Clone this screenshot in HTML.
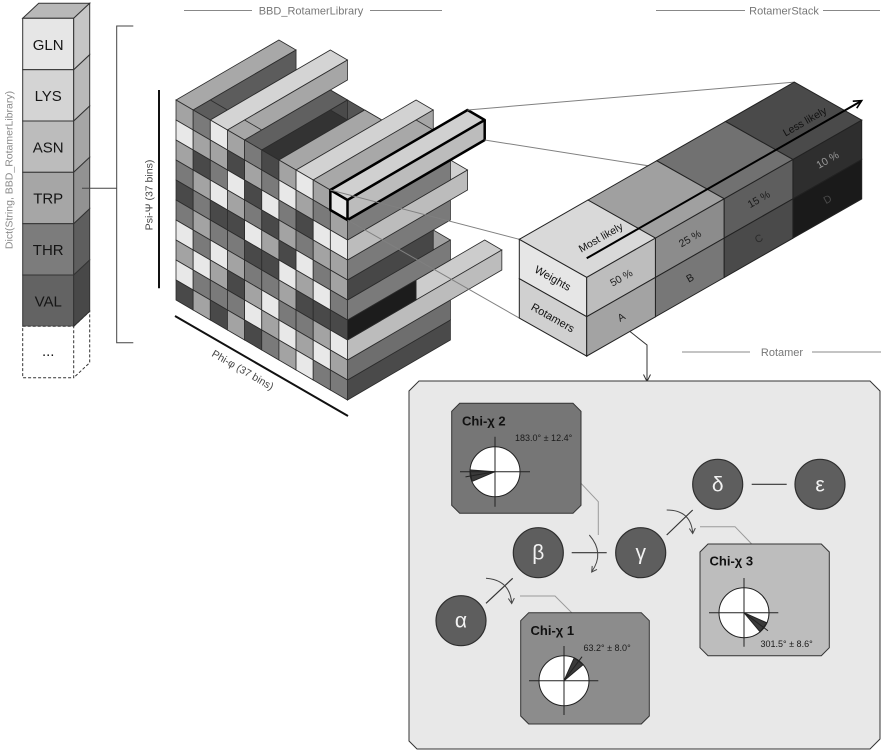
<!DOCTYPE html>
<html><head><meta charset="utf-8"><style>
html,body{margin:0;padding:0;background:#fff;}
svg{display:block;}
.cube rect{vector-effect:non-scaling-stroke;stroke:#2b2b2b;stroke-width:0.8;}
text{font-family:"Liberation Sans","DejaVu Sans",sans-serif;}
</style></head><body>
<svg width="891" height="751" viewBox="0 0 891 751" xmlns="http://www.w3.org/2000/svg">
<rect width="891" height="751" fill="#fff"/>

<!-- headers -->
<g stroke="#888" stroke-width="1">
<line x1="184" y1="10.5" x2="252" y2="10.5"/><line x1="370" y1="10.5" x2="442" y2="10.5"/>
<line x1="656" y1="10.5" x2="745" y2="10.5"/><line x1="823" y1="10.5" x2="880" y2="10.5"/>
<line x1="682" y1="352" x2="750" y2="352"/><line x1="812" y1="352" x2="881" y2="352"/>
</g>
<g fill="#777" font-size="11" text-anchor="middle">
<text x="311" y="14.5">BBD_RotamerLibrary</text>
<text x="784" y="14.5">RotamerStack</text>
<text x="782" y="356">Rotamer</text>
</g>

<!-- left dict stack -->
<text transform="translate(12.5,170) rotate(-90)" text-anchor="middle" font-size="10.5" fill="#8a8a8a">Dict(String, BBD_RotamerLibrary)</text>
<g stroke="#333" stroke-width="1">
<polygon points="22.7,18.3 38.7,3.3 89.7,3.3 73.7,18.3" fill="#b8b8b8"/>
<rect x="22.7" y="18.3" width="51" height="51.4" fill="#e6e6e6"/>
<polygon points="73.7,18.3 89.7,3.3 89.7,54.7 73.7,69.7" fill="#c6c6c6"/>
<rect x="22.7" y="69.7" width="51" height="51.3" fill="#d4d4d4"/>
<polygon points="73.7,69.7 89.7,54.7 89.7,106 73.7,121" fill="#b9b9b9"/>
<rect x="22.7" y="121" width="51" height="51.3" fill="#bcbcbc"/>
<polygon points="73.7,121 89.7,106 89.7,157.3 73.7,172.3" fill="#a6a6a6"/>
<rect x="22.7" y="172.3" width="51" height="51.4" fill="#a6a6a6"/>
<polygon points="73.7,172.3 89.7,157.3 89.7,208.7 73.7,223.7" fill="#929292"/>
<rect x="22.7" y="223.7" width="51" height="51.3" fill="#7c7c7c"/>
<polygon points="73.7,223.7 89.7,208.7 89.7,260 73.7,275" fill="#5e5e5e"/>
<rect x="22.7" y="275" width="51" height="51.3" fill="#636363"/>
<polygon points="73.7,275 89.7,260 89.7,311.3 73.7,326.3" fill="#484848"/>
</g>
<g stroke="#333" stroke-width="1" stroke-dasharray="3,2" fill="#fff">
<rect x="22.7" y="326.3" width="51" height="51.4"/>
<polyline points="73.7,326.3 89.7,311.3 89.7,362.7 73.7,377.7" fill="none"/>
</g>
<g font-size="15" fill="#151515" text-anchor="middle">
<text x="48.2" y="49.8">GLN</text>
<text x="48.2" y="101">LYS</text>
<text x="48.2" y="152.4">ASN</text>
<text x="48.2" y="203.7">TRP</text>
<text x="48.2" y="255">THR</text>
<text x="48.2" y="306.4">VAL</text>
<text x="48.2" y="356">...</text>
</g>
<!-- bracket -->
<g stroke="#444" stroke-width="1" fill="none">
<line x1="82" y1="188.3" x2="116.7" y2="188.3"/>
<polyline points="133.3,26 116.7,26 116.7,342.7 133.3,342.7"/>
</g>

<!-- axes -->
<line x1="159" y1="90" x2="159" y2="288.3" stroke="#111" stroke-width="2"/>
<text transform="translate(152.5,195) rotate(-90)" text-anchor="middle" font-size="10.5" fill="#444">Psi-Ψ (37 bins)</text>
<line x1="175" y1="316" x2="348" y2="416" stroke="#111" stroke-width="2"/>
<text transform="translate(241,373) rotate(30)" text-anchor="middle" font-size="10.5" fill="#444">Phi-φ (37 bins)</text>

<!-- cube -->
<g class="cube">
<!-- row 9..2 -->
<rect transform="matrix(17.15 -10 0 20 347.5 200)" x="0" y="9" width="6" height="1" fill="#4a4a4a"/>
<rect transform="matrix(17.15 -10 0 20 347.5 200)" x="0" y="8" width="6" height="1" fill="#6e6e6e"/>
<rect transform="matrix(17.15 10 17.15 -10 176 240)" x="9" y="4" width="1" height="5" fill="#cccccc"/>
<rect transform="matrix(17.15 -10 0 20 347.5 200)" x="0" y="7" width="9" height="1" fill="#bcbcbc"/>
<rect transform="matrix(17.15 -10 0 20 330.35 190)" x="4" y="6" width="2" height="1" fill="#7a7a7a"/>
<rect transform="matrix(17.15 -10 0 20 347.5 200)" x="0" y="6" width="4" height="1" fill="#1c1c1c"/>
<rect transform="matrix(17.15 10 17.15 -10 176 200)" x="9" y="5" width="1" height="1" fill="#a0a0a0"/>
<rect transform="matrix(17.15 -10 0 20 347.5 200)" x="0" y="5" width="6" height="1" fill="#7a7a7a"/>
<rect transform="matrix(17.15 -10 0 20 330.35 190)" x="5" y="4" width="1" height="1" fill="#6a6a6a"/>
<rect transform="matrix(17.15 -10 0 20 347.5 200)" x="0" y="4" width="5" height="1" fill="#474747"/>
<rect transform="matrix(17.15 -10 0 20 347.5 200)" x="0" y="3" width="6" height="1" fill="#7a7a7a"/>
<rect transform="matrix(17.15 10 17.15 -10 176 140)" x="9" y="6" width="1" height="1" fill="#d0d0d0"/>
<rect transform="matrix(17.15 -10 0 20 347.5 200)" x="0" y="2" width="7" height="1" fill="#bcbcbc"/>
<!-- row 1 -->
<rect transform="matrix(17.15 10 17.15 -10 176 120)" x="1" y="1" width="1" height="5" fill="#5c5c5c"/>
<rect transform="matrix(17.15 10 17.15 -10 176 120)" x="3" y="1" width="1" height="5" fill="#7a7a7a"/>
<rect transform="matrix(17.15 10 17.15 -10 176 120)" x="4" y="5" width="1" height="1" fill="#555555"/>
<rect transform="matrix(17.15 10 17.15 -10 176 120)" x="5" y="4" width="1" height="2" fill="#444444"/>
<rect transform="matrix(17.15 10 17.15 -10 176 120)" x="6" y="5" width="1" height="1" fill="#888888"/>
<rect transform="matrix(17.15 -10 0 20 347.5 200)" x="0" y="1" width="6" height="1" fill="#7c7c7c"/>
<!-- row 0 -->
<rect transform="matrix(17.15 10 17.15 -10 176 100)" x="0" y="0" width="1" height="6" fill="#a8a8a8"/>
<rect transform="matrix(17.15 -10 0 20 193.15 110)" x="1" y="0" width="5" height="1" fill="#5c5c5c"/>
<rect transform="matrix(17.15 10 17.15 -10 176 100)" x="1" y="0" width="1" height="1" fill="#5c5c5c"/>
<rect transform="matrix(17.15 10 17.15 -10 176 100)" x="2" y="0" width="1" height="7" fill="#d4d4d4"/>
<rect transform="matrix(17.15 -10 0 20 227.45 130)" x="1" y="0" width="6" height="1" fill="#a6a6a6"/>
<rect transform="matrix(17.15 10 17.15 -10 176 100)" x="3" y="0" width="1" height="1" fill="#a6a6a6"/>
<rect transform="matrix(17.15 10 17.15 -10 176 100)" x="4" y="0" width="1" height="5" fill="#606060"/>
<rect transform="matrix(17.15 -10 0 20 261.75 150)" x="4" y="0" width="1" height="1" fill="#4a4a4a"/>
<rect transform="matrix(17.15 10 17.15 -10 176 100)" x="5" y="0" width="1" height="4" fill="#333333"/>
<rect transform="matrix(17.15 10 17.15 -10 176 100)" x="6" y="0" width="1" height="5" fill="#a6a6a6"/>
<rect transform="matrix(17.15 10 17.15 -10 176 100)" x="7" y="0" width="1" height="7" fill="#d2d2d2"/>
<rect transform="matrix(17.15 -10 0 20 313.2 180)" x="6" y="0" width="1" height="1" fill="#a6a6a6"/>
<rect transform="matrix(17.15 10 17.15 -10 176 100)" x="8" y="0" width="1" height="6" fill="#a8a8a8"/>
<rect transform="matrix(17.15 10 17.15 -10 176 100)" x="9" y="0" width="1" height="8" fill="#d0d0d0"/>
<rect transform="matrix(17.15 -10 0 20 347.5 200)" x="0" y="0" width="8" height="1" fill="#bcbcbc"/>
<!-- front face -->
<g transform="matrix(17.15 10 0 20 176 100)">
<!-- c0: L W L M D M W L W D -->
<rect x="0" y="0" width="1" height="1" fill="#a3a3a3"/><rect x="0" y="1" width="1" height="1" fill="#e8e8e8"/><rect x="0" y="2" width="1" height="1" fill="#a3a3a3"/><rect x="0" y="3" width="1" height="1" fill="#7a7a7a"/><rect x="0" y="4" width="1" height="1" fill="#494949"/><rect x="0" y="5" width="1" height="1" fill="#7a7a7a"/><rect x="0" y="6" width="1" height="1" fill="#e8e8e8"/><rect x="0" y="7" width="1" height="1" fill="#a3a3a3"/><rect x="0" y="8" width="1" height="1" fill="#e8e8e8"/><rect x="0" y="9" width="1" height="1" fill="#494949"/>
<!-- c1: M L D L M L M W M L -->
<rect x="1" y="0" width="1" height="1" fill="#7a7a7a"/><rect x="1" y="1" width="1" height="1" fill="#a3a3a3"/><rect x="1" y="2" width="1" height="1" fill="#494949"/><rect x="1" y="3" width="1" height="1" fill="#a3a3a3"/><rect x="1" y="4" width="1" height="1" fill="#7a7a7a"/><rect x="1" y="5" width="1" height="1" fill="#a3a3a3"/><rect x="1" y="6" width="1" height="1" fill="#7a7a7a"/><rect x="1" y="7" width="1" height="1" fill="#e8e8e8"/><rect x="1" y="8" width="1" height="1" fill="#7a7a7a"/><rect x="1" y="9" width="1" height="1" fill="#a3a3a3"/>
<!-- c2: W L M W D M W L M D -->
<rect x="2" y="0" width="1" height="1" fill="#e8e8e8"/><rect x="2" y="1" width="1" height="1" fill="#a3a3a3"/><rect x="2" y="2" width="1" height="1" fill="#7a7a7a"/><rect x="2" y="3" width="1" height="1" fill="#e8e8e8"/><rect x="2" y="4" width="1" height="1" fill="#494949"/><rect x="2" y="5" width="1" height="1" fill="#7a7a7a"/><rect x="2" y="6" width="1" height="1" fill="#e8e8e8"/><rect x="2" y="7" width="1" height="1" fill="#a3a3a3"/><rect x="2" y="8" width="1" height="1" fill="#7a7a7a"/><rect x="2" y="9" width="1" height="1" fill="#494949"/>
<!-- c3: L D W L D M L D M L -->
<rect x="3" y="0" width="1" height="1" fill="#a3a3a3"/><rect x="3" y="1" width="1" height="1" fill="#494949"/><rect x="3" y="2" width="1" height="1" fill="#e8e8e8"/><rect x="3" y="3" width="1" height="1" fill="#a3a3a3"/><rect x="3" y="4" width="1" height="1" fill="#494949"/><rect x="3" y="5" width="1" height="1" fill="#7a7a7a"/><rect x="3" y="6" width="1" height="1" fill="#a3a3a3"/><rect x="3" y="7" width="1" height="1" fill="#494949"/><rect x="3" y="8" width="1" height="1" fill="#7a7a7a"/><rect x="3" y="9" width="1" height="1" fill="#a3a3a3"/>
<!-- c4: M L D M W D M L W D -->
<rect x="4" y="0" width="1" height="1" fill="#7a7a7a"/><rect x="4" y="1" width="1" height="1" fill="#a3a3a3"/><rect x="4" y="2" width="1" height="1" fill="#494949"/><rect x="4" y="3" width="1" height="1" fill="#7a7a7a"/><rect x="4" y="4" width="1" height="1" fill="#e8e8e8"/><rect x="4" y="5" width="1" height="1" fill="#494949"/><rect x="4" y="6" width="1" height="1" fill="#7a7a7a"/><rect x="4" y="7" width="1" height="1" fill="#a3a3a3"/><rect x="4" y="8" width="1" height="1" fill="#e8e8e8"/><rect x="4" y="9" width="1" height="1" fill="#494949"/>
<!-- c5: D M W D L D M W L M -->
<rect x="5" y="0" width="1" height="1" fill="#494949"/><rect x="5" y="1" width="1" height="1" fill="#7a7a7a"/><rect x="5" y="2" width="1" height="1" fill="#e8e8e8"/><rect x="5" y="3" width="1" height="1" fill="#494949"/><rect x="5" y="4" width="1" height="1" fill="#a3a3a3"/><rect x="5" y="5" width="1" height="1" fill="#494949"/><rect x="5" y="6" width="1" height="1" fill="#7a7a7a"/><rect x="5" y="7" width="1" height="1" fill="#e8e8e8"/><rect x="5" y="8" width="1" height="1" fill="#a3a3a3"/><rect x="5" y="9" width="1" height="1" fill="#7a7a7a"/>
<!-- c6: L W M L D W L M W L -->
<rect x="6" y="0" width="1" height="1" fill="#a3a3a3"/><rect x="6" y="1" width="1" height="1" fill="#e8e8e8"/><rect x="6" y="2" width="1" height="1" fill="#7a7a7a"/><rect x="6" y="3" width="1" height="1" fill="#a3a3a3"/><rect x="6" y="4" width="1" height="1" fill="#494949"/><rect x="6" y="5" width="1" height="1" fill="#e8e8e8"/><rect x="6" y="6" width="1" height="1" fill="#a3a3a3"/><rect x="6" y="7" width="1" height="1" fill="#7a7a7a"/><rect x="6" y="8" width="1" height="1" fill="#e8e8e8"/><rect x="6" y="9" width="1" height="1" fill="#a3a3a3"/>
<!-- c7: W L D M W L D M L W -->
<rect x="7" y="0" width="1" height="1" fill="#e8e8e8"/><rect x="7" y="1" width="1" height="1" fill="#a3a3a3"/><rect x="7" y="2" width="1" height="1" fill="#494949"/><rect x="7" y="3" width="1" height="1" fill="#7a7a7a"/><rect x="7" y="4" width="1" height="1" fill="#e8e8e8"/><rect x="7" y="5" width="1" height="1" fill="#a3a3a3"/><rect x="7" y="6" width="1" height="1" fill="#494949"/><rect x="7" y="7" width="1" height="1" fill="#7a7a7a"/><rect x="7" y="8" width="1" height="1" fill="#a3a3a3"/><rect x="7" y="9" width="1" height="1" fill="#e8e8e8"/>
<!-- c8: L M W L M W D L W M -->
<rect x="8" y="0" width="1" height="1" fill="#a3a3a3"/><rect x="8" y="1" width="1" height="1" fill="#7a7a7a"/><rect x="8" y="2" width="1" height="1" fill="#e8e8e8"/><rect x="8" y="3" width="1" height="1" fill="#a3a3a3"/><rect x="8" y="4" width="1" height="1" fill="#7a7a7a"/><rect x="8" y="5" width="1" height="1" fill="#e8e8e8"/><rect x="8" y="6" width="1" height="1" fill="#494949"/><rect x="8" y="7" width="1" height="1" fill="#a3a3a3"/><rect x="8" y="8" width="1" height="1" fill="#e8e8e8"/><rect x="8" y="9" width="1" height="1" fill="#7a7a7a"/>
<!-- c9: W L W L L M D W L M -->
<rect x="9" y="0" width="1" height="1" fill="#e8e8e8"/><rect x="9" y="1" width="1" height="1" fill="#a3a3a3"/><rect x="9" y="2" width="1" height="1" fill="#e8e8e8"/><rect x="9" y="3" width="1" height="1" fill="#a3a3a3"/><rect x="9" y="4" width="1" height="1" fill="#a3a3a3"/><rect x="9" y="5" width="1" height="1" fill="#7a7a7a"/><rect x="9" y="6" width="1" height="1" fill="#494949"/><rect x="9" y="7" width="1" height="1" fill="#e8e8e8"/><rect x="9" y="8" width="1" height="1" fill="#a3a3a3"/><rect x="9" y="9" width="1" height="1" fill="#7a7a7a"/>
</g>
</g>
<!-- highlight bar outline -->
<g fill="none" stroke="#000" stroke-width="2.5" stroke-linejoin="round">
<polygon points="330.35,190 347.5,200 347.5,220 330.35,210"/>
<polyline points="330.35,190 467.55,110 484.7,120 347.5,200"/>
<polyline points="484.7,120 484.7,140 347.5,220"/>
</g>

<!-- connector lines cube -> stack -->
<g stroke="#808080" stroke-width="1">
<line x1="467.55" y1="110" x2="794.3" y2="82.1"/>
<line x1="484.7" y1="140" x2="859" y2="199"/>
<line x1="330.35" y1="190" x2="519.3" y2="239.3"/>
<line x1="347.5" y1="220" x2="519.3" y2="318.1"/>
</g>

<!-- rotamer stack -->
<g stroke="#222" stroke-width="1">
<polygon points="519.3,239.3 586.7,277.3 586.7,316.7 519.3,278.7" fill="#e6e6e6"/>
<polygon points="519.3,278.7 586.7,316.7 586.7,356.1 519.3,318.1" fill="#d0d0d0"/>
<polygon points="586.7,277.3 655.45,238 655.45,277.4 586.7,316.7" fill="#bdbdbd"/>
<polygon points="586.7,316.7 655.45,277.4 655.45,316.8 586.7,356.1" fill="#a3a3a3"/>
<polygon points="655.45,238 724.2,198.7 724.2,238.1 655.45,277.4" fill="#8c8c8c"/>
<polygon points="655.45,277.4 724.2,238.1 724.2,277.5 655.45,316.8" fill="#777777"/>
<polygon points="724.2,198.7 792.95,159.4 792.95,198.8 724.2,238.1" fill="#5e5e5e"/>
<polygon points="724.2,238.1 792.95,198.8 792.95,238.2 724.2,277.5" fill="#4a4a4a"/>
<polygon points="792.95,159.4 861.7,120.1 861.7,159.5 792.95,198.8" fill="#2e2e2e"/>
<polygon points="792.95,198.8 861.7,159.5 861.7,198.9 792.95,238.2" fill="#1a1a1a"/>
<polygon points="519.3,239.3 588.05,200 655.45,238 586.7,277.3" fill="#d9d9d9"/>
<polygon points="588.05,200 656.8,160.7 724.2,198.7 655.45,238" fill="#a0a0a0"/>
<polygon points="656.8,160.7 725.55,121.4 792.95,159.4 724.2,198.7" fill="#717171"/>
<polygon points="725.55,121.4 794.3,82.1 861.7,120.1 792.95,159.4" fill="#4a4a4a"/>
</g>
<line x1="586.7" y1="258.3" x2="860" y2="101.7" stroke="#000" stroke-width="2"/>
<polyline points="852.78,101.2 861.7,100.7 856.74,108.14" fill="none" stroke="#000" stroke-width="1.6"/>
<g font-size="10.5" fill="#111" text-anchor="middle">
<text x="601" y="241" transform="rotate(-29.75 601 238)">Most likely</text>
<text x="805" y="125" transform="rotate(-29.75 805 122)">Less likely</text>
<text x="553" y="282" transform="rotate(29.4 553 278)" font-size="11">Weights</text>
<text x="553" y="321.5" transform="rotate(29.4 553 317.5)" font-size="11">Rotamers</text>
<text x="621.1" y="281.4" transform="rotate(-29.75 621.1 277.4)" fill="#222">50 %</text>
<text x="621.1" y="320.8" transform="rotate(-29.75 621.1 316.8)" fill="#222">A</text>
<text x="689.8" y="242.1" transform="rotate(-29.75 689.8 238.1)" fill="#1a1a1a">25 %</text>
<text x="689.8" y="281.5" transform="rotate(-29.75 689.8 277.5)" fill="#1a1a1a">B</text>
<text x="758.6" y="202.8" transform="rotate(-29.75 758.6 198.8)" fill="#1a1a1a">15 %</text>
<text x="758.6" y="242.2" transform="rotate(-29.75 758.6 238.2)" fill="#2a2a2a">C</text>
<text x="827.3" y="163.5" transform="rotate(-29.75 827.3 159.5)" fill="#9a9a9a">10 %</text>
<text x="827.3" y="202.9" transform="rotate(-29.75 827.3 198.9)" fill="#4a4a4a">D</text>
</g>

<!-- stack -> rotamer connector -->
<polyline points="630,331.5 647,345 647,381" fill="none" stroke="#333" stroke-width="1"/>
<polyline points="643.5,374.5 647,381.5 650.5,374.5" fill="none" stroke="#333" stroke-width="1"/>

<!-- rotamer box -->
<polygon points="419,381 870,381 880,391 880,739 870,749 417,749 409,741 409,391" fill="#e8e8e8" stroke="#333" stroke-width="1"/>

<!-- leader lines -->
<g fill="none" stroke="#9a9a9a" stroke-width="1">
<polyline points="581,483.3 598.3,501.7 598.3,535"/>
<polyline points="571.7,612.7 555,596 520,596"/>
<polyline points="751.7,544 735,526.7 700,526.7"/>
</g>

<!-- chi boxes -->
<g stroke="#333" stroke-width="1">
<polygon points="459.7,403.3 573,403.3 581,411.3 581,505.3 573,513.3 459.7,513.3 451.7,505.3 451.7,411.3" fill="#767676"/>
<polygon points="528.7,612.7 641.3,612.7 649.3,620.7 649.3,716 641.3,724 528.7,724 520.7,716 520.7,620.7" fill="#8c8c8c"/>
<polygon points="708,544 821.3,544 829.3,552 829.3,647.7 821.3,655.7 708,655.7 700,647.7 700,552" fill="#bdbdbd"/>
</g>
<g font-weight="bold" font-size="13" fill="#111">
<text x="462" y="425.5">Chi-χ 2</text>
<text x="530.5" y="635">Chi-χ 1</text>
<text x="709.5" y="565.5">Chi-χ 3</text>
</g>
<g font-size="9" fill="#1a1a1a">
<text x="515" y="441">183.0° ± 12.4°</text>
<text x="583.5" y="651">63.2° ± 8.0°</text>
<text x="760.5" y="647">301.5° ± 8.6°</text>
</g>
<!-- dials -->
<g stroke="#222" stroke-width="1">
<circle cx="495" cy="471.7" r="25" fill="#fff"/>
<polygon points="495,471.7 470.06,469.95 471.99,481.47" fill="#3a3a3a"/>
<line x1="495" y1="471.7" x2="465.5" y2="476.9"/>
<line x1="460" y1="471.7" x2="530" y2="471.7"/>
<line x1="495" y1="436.7" x2="495" y2="506.7"/>

<circle cx="564" cy="680.7" r="25" fill="#fff"/>
<polygon points="564,680.7 583.15,664.6 574.2,657.9" fill="#3a3a3a"/>
<line x1="564" y1="680.7" x2="582.05" y2="656.7"/>
<line x1="529" y1="680.7" x2="598.3" y2="680.7"/>
<line x1="564" y1="646" x2="564" y2="715"/>

<circle cx="744" cy="612.7" r="25" fill="#fff"/>
<polygon points="744,612.7 760.07,631.85 766.84,622.87" fill="#3a3a3a"/>
<line x1="744" y1="612.7" x2="767.96" y2="630.75"/>
<line x1="709" y1="612.7" x2="778.3" y2="612.7"/>
<line x1="744" y1="578" x2="744" y2="646.7"/>
</g>

<!-- bonds -->
<g stroke="#333" stroke-width="1.2">
<line x1="486" y1="603.3" x2="512.7" y2="578.3"/>
<line x1="571.7" y1="552.7" x2="606.7" y2="552.7"/>
<line x1="666.7" y1="535" x2="692.7" y2="510"/>
<line x1="751.7" y1="484.3" x2="786.7" y2="484.3"/>
</g>
<!-- rotation arcs -->
<g fill="none" stroke="#444" stroke-width="1">
<path d="M589.3,535 Q605,553 591.7,571.7"/>
<polyline points="597,569.4 591.7,572 592.2,565.9"/>
<path d="M486,578.3 Q510,580 511.7,603.3"/>
<polyline points="514.35,598.1 511.7,603.5 508.35,598.5"/>
<path d="M666.7,510 Q691,510 692.7,533.3"/>
<polyline points="695.35,528.1 692.7,533.5 689.35,528.5"/>
</g>

<!-- nodes -->
<g fill="#5e5e5e" stroke="#2e2e2e" stroke-width="1.2">
<circle cx="461" cy="620.7" r="25"/>
<circle cx="538.3" cy="552.7" r="25"/>
<circle cx="640.7" cy="552.7" r="25"/>
<circle cx="717.7" cy="484.3" r="25"/>
<circle cx="820" cy="484.3" r="25"/>
</g>
<g fill="#f2f2f2" font-size="21" text-anchor="middle">
<text x="461" y="627.7">α</text>
<text x="538.3" y="559.7">β</text>
<text x="640.7" y="559.7">γ</text>
<text x="717.7" y="491.3">δ</text>
<text x="820" y="491.3">ε</text>
</g>
</svg>
</body></html>
